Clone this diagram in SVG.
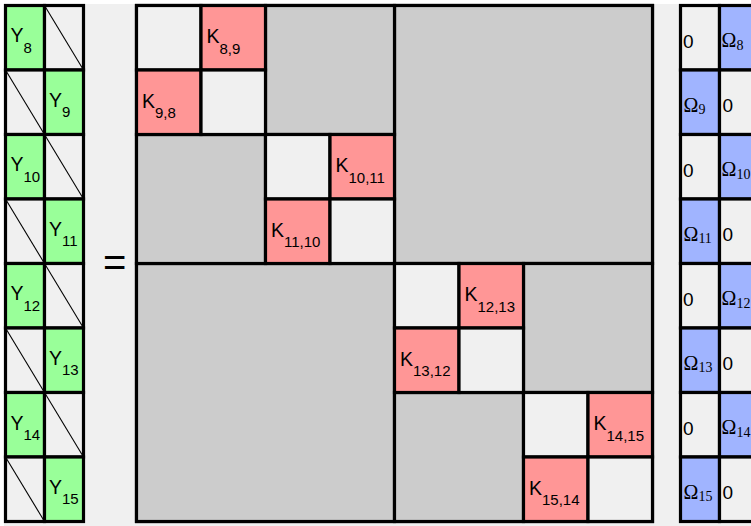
<svg xmlns="http://www.w3.org/2000/svg" width="751" height="526" viewBox="0 0 751 526">
<style>
.c{stroke:#000;stroke-width:3.2}
.g{fill:#99ff99}
.l{fill:#f0f0f0}
.p{fill:#ff9696}
.b{fill:#a0b4ff}
.d{fill:#cccccc}
.dg{stroke:#000;stroke-width:1.1}
.t{font-family:"Liberation Sans",Arial,sans-serif;font-size:19.5px;fill:#000}
.s{font-size:15px}
.z{font-family:"Liberation Sans",Arial,sans-serif;font-size:19px;fill:#000}
.o{font-family:"Liberation Serif","Times New Roman",serif;font-size:20px;fill:#000}
.os{font-size:14px}
</style>
<rect x="0" y="0" width="751" height="526" fill="#fff"/>
<rect x="4" y="4" width="747" height="522" fill="#f0f0f0"/>

<g id="vectorY">
<rect class="c g" x="5.5" y="5.5" width="39" height="64.5"/><rect class="c l" x="44.5" y="5.5" width="39" height="64.5"/><line class="dg" x1="44.5" y1="5.5" x2="83.5" y2="70"/>
<text class="t" x="10.5" y="42">Y<tspan class="s" dy="10.5">8</tspan></text>
<rect class="c l" x="5.5" y="70" width="39" height="64.5"/><rect class="c g" x="44.5" y="70" width="39" height="64.5"/><line class="dg" x1="5.5" y1="70" x2="44.5" y2="134.5"/>
<text class="t" x="49" y="106.5">Y<tspan class="s" dy="10.5">9</tspan></text>
<rect class="c g" x="5.5" y="134.5" width="39" height="64.5"/><rect class="c l" x="44.5" y="134.5" width="39" height="64.5"/><line class="dg" x1="44.5" y1="134.5" x2="83.5" y2="199"/>
<text class="t" x="10.5" y="171">Y<tspan class="s" dy="10.5">10</tspan></text>
<rect class="c l" x="5.5" y="199" width="39" height="64.5"/><rect class="c g" x="44.5" y="199" width="39" height="64.5"/><line class="dg" x1="5.5" y1="199" x2="44.5" y2="263.5"/>
<text class="t" x="49" y="235.5">Y<tspan class="s" dy="10.5">11</tspan></text>
<rect class="c g" x="5.5" y="263.5" width="39" height="64.5"/><rect class="c l" x="44.5" y="263.5" width="39" height="64.5"/><line class="dg" x1="44.5" y1="263.5" x2="83.5" y2="328"/>
<text class="t" x="10.5" y="300">Y<tspan class="s" dy="10.5">12</tspan></text>
<rect class="c l" x="5.5" y="328" width="39" height="64.5"/><rect class="c g" x="44.5" y="328" width="39" height="64.5"/><line class="dg" x1="5.5" y1="328" x2="44.5" y2="392.5"/>
<text class="t" x="49" y="364.5">Y<tspan class="s" dy="10.5">13</tspan></text>
<rect class="c g" x="5.5" y="392.5" width="39" height="64.5"/><rect class="c l" x="44.5" y="392.5" width="39" height="64.5"/><line class="dg" x1="44.5" y1="392.5" x2="83.5" y2="457"/>
<text class="t" x="10.5" y="429.5">Y<tspan class="s" dy="10.5">14</tspan></text>
<rect class="c l" x="5.5" y="457" width="39" height="64.5"/><rect class="c g" x="44.5" y="457" width="39" height="64.5"/><line class="dg" x1="5.5" y1="457" x2="44.5" y2="521.5"/>
<text class="t" x="49" y="493.5">Y<tspan class="s" dy="10.5">15</tspan></text>
</g>

<g id="equals">
<text class="t" x="103" y="276" style="font-size:40px">=</text>
</g>

<g id="matrixK">
<rect class="c d" x="136.5" y="5.5" width="516" height="516"/>
<rect class="c d" x="394.5" y="5.5" width="258" height="258"/>
<rect class="c d" x="136.5" y="263.5" width="258" height="258"/>
<rect class="c d" x="265.5" y="5.5" width="129" height="129"/>
<rect class="c d" x="136.5" y="134.5" width="129" height="129"/>
<rect class="c d" x="523.5" y="263.5" width="129" height="129"/>
<rect class="c d" x="394.5" y="392.5" width="129" height="129"/>

<rect class="c l" x="136.5" y="5.5" width="64.5" height="64.5"/>
<rect class="c p" x="201" y="5.5" width="64.5" height="64.5"/>
<rect class="c p" x="136.5" y="70" width="64.5" height="64.5"/>
<rect class="c l" x="201" y="70" width="64.5" height="64.5"/>
<text class="t" x="206.5" y="43">K<tspan class="s" dy="10.5">8,9</tspan></text>
<text class="t" x="142" y="107.5">K<tspan class="s" dy="10.5">9,8</tspan></text>

<rect class="c l" x="265.5" y="134.5" width="64.5" height="64.5"/>
<rect class="c p" x="330" y="134.5" width="64.5" height="64.5"/>
<rect class="c p" x="265.5" y="199" width="64.5" height="64.5"/>
<rect class="c l" x="330" y="199" width="64.5" height="64.5"/>
<text class="t" x="335.5" y="172">K<tspan class="s" dy="10.5">10,11</tspan></text>
<text class="t" x="271" y="236.5">K<tspan class="s" dy="10.5">11,10</tspan></text>

<rect class="c l" x="394.5" y="263.5" width="64.5" height="64.5"/>
<rect class="c p" x="459" y="263.5" width="64.5" height="64.5"/>
<rect class="c p" x="394.5" y="328" width="64.5" height="64.5"/>
<rect class="c l" x="459" y="328" width="64.5" height="64.5"/>
<text class="t" x="464.5" y="301">K<tspan class="s" dy="10.5">12,13</tspan></text>
<text class="t" x="400" y="365.5">K<tspan class="s" dy="10.5">13,12</tspan></text>

<rect class="c l" x="523.5" y="392.5" width="64.5" height="64.5"/>
<rect class="c p" x="588" y="392.5" width="64.5" height="64.5"/>
<rect class="c p" x="523.5" y="457" width="64.5" height="64.5"/>
<rect class="c l" x="588" y="457" width="64.5" height="64.5"/>
<text class="t" x="593.5" y="430">K<tspan class="s" dy="10.5">14,15</tspan></text>
<text class="t" x="529" y="494.5">K<tspan class="s" dy="10.5">15,14</tspan></text>
</g>

<g id="vectorOmega">
<rect class="c l" x="680.5" y="5.5" width="39" height="64.5"/><rect class="c b" x="719.5" y="5.5" width="39" height="64.5"/>
<text class="z" x="683" y="47.5">0</text><text class="o" x="721.5" y="47">Ω<tspan class="os" dy="2.5">8</tspan></text>
<rect class="c b" x="680.5" y="70" width="39" height="64.5"/><rect class="c l" x="719.5" y="70" width="39" height="64.5"/>
<text class="o" x="683.5" y="111.5">Ω<tspan class="os" dy="2.5">9</tspan></text><text class="z" x="722.5" y="112">0</text>
<rect class="c l" x="680.5" y="134.5" width="39" height="64.5"/><rect class="c b" x="719.5" y="134.5" width="39" height="64.5"/>
<text class="z" x="683" y="176.5">0</text><text class="o" x="721.5" y="176">Ω<tspan class="os" dy="2.5">10</tspan></text>
<rect class="c b" x="680.5" y="199" width="39" height="64.5"/><rect class="c l" x="719.5" y="199" width="39" height="64.5"/>
<text class="o" x="683.5" y="240.5">Ω<tspan class="os" dy="2.5">11</tspan></text><text class="z" x="722.5" y="241">0</text>
<rect class="c l" x="680.5" y="263.5" width="39" height="64.5"/><rect class="c b" x="719.5" y="263.5" width="39" height="64.5"/>
<text class="z" x="683" y="305.5">0</text><text class="o" x="721.5" y="305">Ω<tspan class="os" dy="2.5">12</tspan></text>
<rect class="c b" x="680.5" y="328" width="39" height="64.5"/><rect class="c l" x="719.5" y="328" width="39" height="64.5"/>
<text class="o" x="683.5" y="369.5">Ω<tspan class="os" dy="2.5">13</tspan></text><text class="z" x="722.5" y="370">0</text>
<rect class="c l" x="680.5" y="392.5" width="39" height="64.5"/><rect class="c b" x="719.5" y="392.5" width="39" height="64.5"/>
<text class="z" x="683" y="434.5">0</text><text class="o" x="721.5" y="434">Ω<tspan class="os" dy="2.5">14</tspan></text>
<rect class="c b" x="680.5" y="457" width="39" height="64.5"/><rect class="c l" x="719.5" y="457" width="39" height="64.5"/>
<text class="o" x="683.5" y="498.5">Ω<tspan class="os" dy="2.5">15</tspan></text><text class="z" x="722.5" y="499">0</text>
</g>
</svg>
